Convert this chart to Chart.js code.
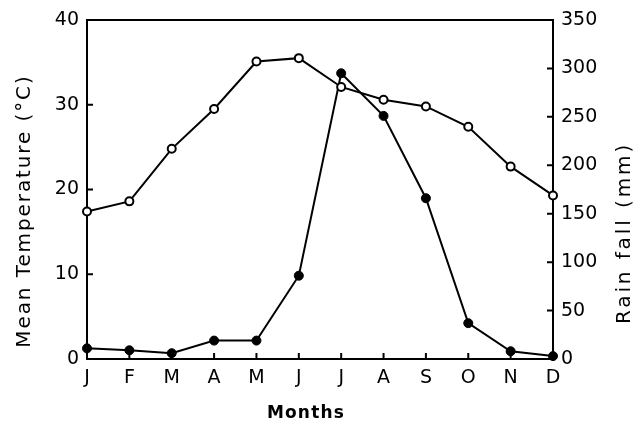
<!DOCTYPE html>
<html>
<head>
<meta charset="utf-8">
<script src="https://cdn.jsdelivr.net/npm/chart.js@4/dist/chart.umd.min.js"></script>
<style>
  html, body { margin: 0; padding: 0; background: #fff; }
  #wrap { width: 640px; height: 426px; position: relative; }
</style>
</head>
<body>
<div id="wrap"><canvas id="chart"></canvas></div>
<script>
// Values
const months = ['J', 'F', 'M', 'A', 'M', 'J', 'J', 'A', 'S', 'O', 'N', 'D'];
const temperature = [17.4, 18.6, 24.8, 29.5, 35.1, 35.5, 32.1, 30.6, 29.8, 27.4, 22.7, 19.3];
const rainfall = [11, 9, 6, 19, 19, 86, 295, 251, 166, 37, 8, 3];
const tempTicks = [0, 10, 20, 30, 40];
const rainTicks = [0, 50, 100, 150, 200, 250, 300, 350];

const FONT = '"DejaVu Sans", sans-serif';
const TICK_LEN = 6;

// frame, inward tick marks and axis titles
const framePlugin = {
    id: 'frame',
    beforeDatasetsDraw(chart) {
        const ctx = chart.ctx;
        const a = chart.chartArea;
        const x = chart.scales.x, yT = chart.scales.yTemp, yR = chart.scales.yRain;
        ctx.save();
        ctx.strokeStyle = '#000';
        ctx.lineWidth = 2;
        ctx.strokeRect(a.left, a.top, a.right - a.left, a.bottom - a.top);
        ctx.beginPath();
        months.forEach((m, i) => {
            const px = x.getPixelForValue(i);
            ctx.moveTo(px, a.bottom);
            ctx.lineTo(px, a.bottom - TICK_LEN);
        });
        tempTicks.forEach(v => {
            const py = yT.getPixelForValue(v);
            ctx.moveTo(a.left, py);
            ctx.lineTo(a.left + TICK_LEN, py);
        });
        rainTicks.forEach(v => {
            const py = yR.getPixelForValue(v);
            ctx.moveTo(a.right, py);
            ctx.lineTo(a.right - TICK_LEN, py);
        });
        ctx.stroke();
        ctx.restore();
    },
    afterDraw(chart) {
        const ctx = chart.ctx;
        ctx.save();
        ctx.fillStyle = '#000';
        ctx.textAlign = 'center';
        ctx.textBaseline = 'middle';
        ctx.font = '20px ' + FONT;

        ctx.save();
        ctx.letterSpacing = '1.9px';
        ctx.translate(25, 211);
        ctx.rotate(-Math.PI / 2);
        ctx.fillText('Mean Temperature (\u00B0C)', 0, 0);
        ctx.restore();

        ctx.save();
        ctx.letterSpacing = '2.9px';
        ctx.translate(625, 233);
        ctx.rotate(-Math.PI / 2);
        ctx.fillText('Rain fall (mm)', 0, 0);
        ctx.restore();

        ctx.letterSpacing = '1.2px';
        ctx.font = 'bold 17px ' + FONT;
        ctx.fillText('Months', 306, 414);
        ctx.restore();
    }
};

new Chart(document.getElementById('chart'), {
    type: 'line',
    data: {
        labels: months,
        datasets: [
            {
                label: 'Mean Temperature',
                data: temperature,
                yAxisID: 'yTemp',
                borderColor: '#000',
                borderWidth: 2,
                pointRadius: 4,
                pointBorderWidth: 2,
                pointBackgroundColor: '#fff',
                pointBorderColor: '#000',
                tension: 0,
                clip: false
            },
            {
                label: 'Rain fall',
                data: rainfall,
                yAxisID: 'yRain',
                borderColor: '#000',
                borderWidth: 2,
                pointRadius: 4.5,
                pointBorderWidth: 1,
                pointBackgroundColor: '#000',
                pointBorderColor: '#000',
                tension: 0,
                clip: false
            }
        ]
    },
    options: {
        responsive: true,
        maintainAspectRatio: false,
        animation: false,
        layout: { padding: { top: 20, left: 0, right: 0, bottom: 0 } },
        plugins: {
            legend: { display: false },
            tooltip: { enabled: false }
        },
        scales: {
            x: {
                type: 'category',
                offset: false,
                grid: { display: false, drawTicks: false },
                border: { display: false },
                ticks: {
                    color: '#000',
                    font: { family: FONT, size: 19 },
                    padding: 8,
                    autoSkip: false,
                    maxRotation: 0
                },
                afterFit(scale) { scale.height = 67; }
            },
            yTemp: {
                position: 'left',
                min: 0,
                max: 40,
                grid: { display: false, drawTicks: false },
                border: { display: false },
                ticks: {
                    stepSize: 10,
                    color: '#000',
                    font: { family: FONT, size: 19 },
                    padding: 8
                },
                afterFit(scale) { scale.width = 87; }
            },
            yRain: {
                position: 'right',
                min: 0,
                max: 350,
                grid: { display: false, drawTicks: false },
                border: { display: false },
                ticks: {
                    stepSize: 50,
                    color: '#000',
                    font: { family: FONT, size: 19 },
                    padding: 8
                },
                afterFit(scale) { scale.width = 87; }
            }
        }
    },
    plugins: [framePlugin]
});
</script>
</body>
</html>
